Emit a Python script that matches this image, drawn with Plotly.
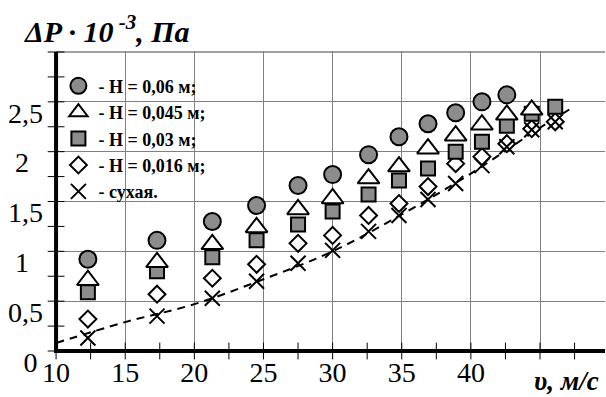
import plotly.graph_objects as go

# ---- data ----
velocity = [12.3, 17.3, 21.3, 24.5, 27.5, 30.0, 32.6, 34.8, 36.9, 38.9, 40.8, 42.6, 44.4, 46.1]
dp_h060 = [0.92, 1.11, 1.30, 1.46, 1.66, 1.77, 1.97, 2.15, 2.28, 2.39, 2.50, 2.57]
dp_h045 = [0.71, 0.89, 1.07, 1.24, 1.42, 1.53, 1.73, 1.85, 2.03, 2.16, 2.27, 2.37, 2.42]
dp_h030 = [0.59, 0.80, 0.94, 1.11, 1.27, 1.40, 1.57, 1.71, 1.83, 2.00, 2.10, 2.26, 2.38, 2.45]
dp_h016 = [0.32, 0.57, 0.73, 0.87, 1.08, 1.16, 1.36, 1.48, 1.65, 1.88, 1.95, 2.08, 2.23, 2.30]
dp_dry = [0.13, 0.35, 0.53, 0.70, 0.88, 1.01, 1.20, 1.36, 1.52, 1.68, 1.86, 2.05, 2.22, 2.30]

trend_x = [10, 15, 20, 25, 30, 35, 40, 45, 47.2]
trend_y = [0.08, 0.29, 0.47, 0.72, 1.00, 1.37, 1.78, 2.24, 2.43]

legend_names = ["<b>- H = 0,06 м;</b>", "<b>- H = 0,045 м;</b>", "<b>- H = 0,03 м;</b>",
                "<b>- H = 0,016 м;</b>", "<b>- сухая.</b>"]
y_ticks = [0, 0.5, 1, 1.5, 2, 2.5]
y_ticktext = ["0\u2009", "0,5", "1\u2007", "1,5", "2\u2007", "2,5"]
x_ticks = [10, 15, 20, 25, 30, 35, 40, 45]
x_ticktext = ["10", "15", "20", "25", "30", "35", "40", " "]

FONT = "Liberation Serif"
GRAY = "#8c8c8c"
GRID = "#808080"
X_AXIS_START, Y_AXIS_START, Y_AXIS_END = 10, 0, 3
X_RANGE = [9.85, 49.7]
Y_RANGE = [-0.02, 3.01]
Y_MINOR = [Y_AXIS_START + 0.25 * i for i in range(13)]
X_MINOR = [X_AXIS_START + 2.5 * i for i in range(16)]

fig = go.Figure()

# chart frame drawn through the axes: gray top edge, thick black left/bottom axes
fig.add_trace(go.Scatter(x=[X_AXIS_START, X_RANGE[1]], y=[Y_AXIS_END, Y_AXIS_END], mode="lines",
                         line=dict(color=GRID, width=1.5), showlegend=False, hoverinfo="skip"))
fig.add_trace(go.Scatter(x=[X_AXIS_START, X_AXIS_START, X_RANGE[1]],
                         y=[Y_AXIS_END, Y_AXIS_START, Y_AXIS_START], mode="lines",
                         line=dict(color="black", width=4), showlegend=False, hoverinfo="skip"))
# tick marks (left: outside, bottom: inside)
fig.add_trace(go.Scatter(x=[X_AXIS_START] * len(Y_MINOR), y=Y_MINOR, mode="markers", cliponaxis=False,
                         marker=dict(symbol="line-ew", size=12, line=dict(color="black", width=1)),
                         showlegend=False, hoverinfo="skip"))
fig.add_trace(go.Scatter(x=X_MINOR, y=[Y_AXIS_START] * len(X_MINOR), mode="markers",
                         cliponaxis=False,
                         marker=dict(symbol="line-ns", size=12, line=dict(color="black", width=1)),
                         showlegend=False, hoverinfo="skip"))

fig.add_trace(go.Scatter(x=trend_x, y=trend_y, mode="lines", showlegend=False,
                         line=dict(color="black", width=2, dash="8px,6px", shape="spline")))
fig.add_trace(go.Scatter(x=velocity[:len(dp_h016)], y=dp_h016, mode="markers", name=legend_names[3],
                         legendrank=4,
                         marker=dict(symbol="diamond", size=13, color="white",
                                     line=dict(color="black", width=2))))
fig.add_trace(go.Scatter(x=velocity[:len(dp_dry)], y=dp_dry, mode="markers", name=legend_names[4],
                         legendrank=5,
                         marker=dict(symbol="x-thin", size=15, color="black",
                                     line=dict(color="black", width=2))))
fig.add_trace(go.Scatter(x=velocity[:len(dp_h030)], y=dp_h030, mode="markers", name=legend_names[2],
                         legendrank=3,
                         marker=dict(symbol="square", size=14, color=GRAY,
                                     line=dict(color="black", width=2))))
fig.add_trace(go.Scatter(x=velocity[:len(dp_h045)], y=dp_h045, mode="markers", name=legend_names[1],
                         legendrank=2,
                         marker=dict(symbol="triangle-up", size=19, color="white",
                                     line=dict(color="black", width=2))))
fig.add_trace(go.Scatter(x=velocity[:len(dp_h060)], y=dp_h060, mode="markers", name=legend_names[0],
                         legendrank=1,
                         marker=dict(symbol="circle", size=17, color=GRAY,
                                     line=dict(color="black", width=2))))

fig.update_layout(
    width=606, height=397,
    margin=dict(l=54, r=1, t=51, b=44),
    paper_bgcolor="white", plot_bgcolor="white",
    font=dict(family=FONT, color="#000000"),
    showlegend=True,
    legend=dict(x=0.008, y=0.945, xanchor="left", yanchor="top",
                bgcolor="rgba(255,255,255,0)",
                font=dict(family=FONT, size=18, color="#000000")),
    xaxis=dict(range=X_RANGE, tickmode="array", tickvals=x_ticks, ticktext=x_ticktext,
               showgrid=True, gridcolor=GRID, gridwidth=1,
               showline=False, ticks="",
               tickfont=dict(family=FONT, size=28), zeroline=False),
    yaxis=dict(range=Y_RANGE, tickmode="array", tickvals=y_ticks, ticktext=y_ticktext,
               showgrid=True, gridcolor=GRID, gridwidth=1,
               showline=False, ticks="",
               tickfont=dict(family=FONT, size=28), zeroline=False,
               ticklabelshift=11, ticklabelstandoff=10),
    annotations=[
        dict(text="<b><i>ΔP · 10<sup> -3</sup>, Па</i></b>", xref="paper", yref="paper",
             x=-0.058, y=1.0, xanchor="left", yanchor="bottom", yshift=1, showarrow=False,
             font=dict(family=FONT, size=30, color="#000000")),
        dict(text="<b><i>υ, м/с</i></b>", xref="paper", yref="paper",
             x=0.93, y=-0.035, xanchor="center", yanchor="top", showarrow=False,
             font=dict(family=FONT, size=27, color="#000000")),
    ],
)

fig.write_html("out.html", config={"displayModeBar": False},
               post_script="document.body.style.margin='0';")
